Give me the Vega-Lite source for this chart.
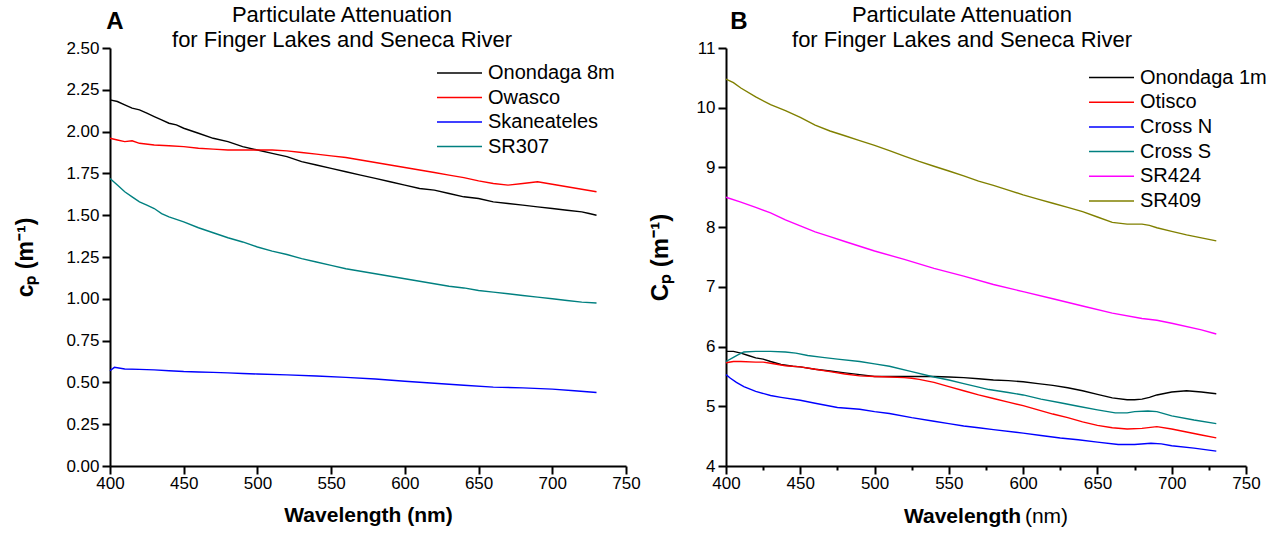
{
  "$schema": "https://vega.github.io/schema/vega-lite/v6.json",
  "background": "white",
  "padding": {"left": 14, "top": 4, "right": 5, "bottom": 5},
  "bounds": "flush",
  "spacing": 100,
  "config": {
    "font": "Liberation Sans",
    "view": {"stroke": null},
    "axis": {
      "grid": false,
      "domainColor": "black",
      "domainWidth": 2,
      "tickColor": "black",
      "tickWidth": 2,
      "labelColor": "black",
      "labelFont": "Liberation Sans",
      "labelFontSize": 17,
      "labelOverlap": false,
      "labelFlush": false,
      "titleColor": "black",
      "titleFont": "Liberation Sans",
      "titleFontWeight": "bold"
    },
    "title": {"font": "Liberation Sans", "fontSize": 22, "fontWeight": "normal", "color": "black", "lineHeight": 25, "anchor": "middle"},
    "legend": {"labelFont": "Liberation Sans", "labelFontSize": 20, "labelColor": "black"}
  },
  "datasets": {
    "A": [
      {"s":"Onondaga 8m","w":400,"c":2.19},{"s":"Onondaga 8m","w":405,"c":2.18},{"s":"Onondaga 8m","w":410,"c":2.16},{"s":"Onondaga 8m","w":415,"c":2.14},{"s":"Onondaga 8m","w":420,"c":2.13},{"s":"Onondaga 8m","w":425,"c":2.11},{"s":"Onondaga 8m","w":430,"c":2.09},{"s":"Onondaga 8m","w":435,"c":2.07},{"s":"Onondaga 8m","w":440,"c":2.05},{"s":"Onondaga 8m","w":445,"c":2.04},{"s":"Onondaga 8m","w":450,"c":2.02},{"s":"Onondaga 8m","w":460,"c":1.99},{"s":"Onondaga 8m","w":470,"c":1.96},{"s":"Onondaga 8m","w":480,"c":1.94},{"s":"Onondaga 8m","w":490,"c":1.91},{"s":"Onondaga 8m","w":500,"c":1.89},{"s":"Onondaga 8m","w":510,"c":1.87},{"s":"Onondaga 8m","w":520,"c":1.85},{"s":"Onondaga 8m","w":530,"c":1.82},{"s":"Onondaga 8m","w":540,"c":1.80},{"s":"Onondaga 8m","w":550,"c":1.78},{"s":"Onondaga 8m","w":560,"c":1.76},{"s":"Onondaga 8m","w":570,"c":1.74},{"s":"Onondaga 8m","w":580,"c":1.72},{"s":"Onondaga 8m","w":590,"c":1.70},{"s":"Onondaga 8m","w":600,"c":1.68},{"s":"Onondaga 8m","w":610,"c":1.66},{"s":"Onondaga 8m","w":620,"c":1.65},{"s":"Onondaga 8m","w":630,"c":1.63},{"s":"Onondaga 8m","w":640,"c":1.61},{"s":"Onondaga 8m","w":650,"c":1.60},{"s":"Onondaga 8m","w":660,"c":1.58},{"s":"Onondaga 8m","w":670,"c":1.57},{"s":"Onondaga 8m","w":680,"c":1.56},{"s":"Onondaga 8m","w":690,"c":1.55},{"s":"Onondaga 8m","w":700,"c":1.54},{"s":"Onondaga 8m","w":710,"c":1.53},{"s":"Onondaga 8m","w":720,"c":1.52},{"s":"Onondaga 8m","w":725,"c":1.51},{"s":"Onondaga 8m","w":730,"c":1.50},
      {"s":"Owasco","w":400,"c":1.96},{"s":"Owasco","w":405,"c":1.95},{"s":"Owasco","w":410,"c":1.94},{"s":"Owasco","w":415,"c":1.945},{"s":"Owasco","w":420,"c":1.93},{"s":"Owasco","w":430,"c":1.92},{"s":"Owasco","w":440,"c":1.915},{"s":"Owasco","w":450,"c":1.91},{"s":"Owasco","w":460,"c":1.90},{"s":"Owasco","w":470,"c":1.895},{"s":"Owasco","w":480,"c":1.89},{"s":"Owasco","w":490,"c":1.89},{"s":"Owasco","w":500,"c":1.89},{"s":"Owasco","w":510,"c":1.89},{"s":"Owasco","w":520,"c":1.885},{"s":"Owasco","w":530,"c":1.875},{"s":"Owasco","w":540,"c":1.865},{"s":"Owasco","w":550,"c":1.855},{"s":"Owasco","w":560,"c":1.845},{"s":"Owasco","w":570,"c":1.83},{"s":"Owasco","w":580,"c":1.815},{"s":"Owasco","w":590,"c":1.80},{"s":"Owasco","w":600,"c":1.785},{"s":"Owasco","w":610,"c":1.77},{"s":"Owasco","w":620,"c":1.755},{"s":"Owasco","w":630,"c":1.74},{"s":"Owasco","w":640,"c":1.725},{"s":"Owasco","w":650,"c":1.705},{"s":"Owasco","w":660,"c":1.69},{"s":"Owasco","w":670,"c":1.68},{"s":"Owasco","w":680,"c":1.69},{"s":"Owasco","w":690,"c":1.70},{"s":"Owasco","w":700,"c":1.685},{"s":"Owasco","w":710,"c":1.67},{"s":"Owasco","w":720,"c":1.655},{"s":"Owasco","w":730,"c":1.64},
      {"s":"Skaneateles","w":400,"c":0.57},{"s":"Skaneateles","w":403,"c":0.59},{"s":"Skaneateles","w":410,"c":0.58},{"s":"Skaneateles","w":420,"c":0.578},{"s":"Skaneateles","w":430,"c":0.575},{"s":"Skaneateles","w":440,"c":0.57},{"s":"Skaneateles","w":450,"c":0.565},{"s":"Skaneateles","w":460,"c":0.562},{"s":"Skaneateles","w":470,"c":0.56},{"s":"Skaneateles","w":480,"c":0.557},{"s":"Skaneateles","w":490,"c":0.553},{"s":"Skaneateles","w":500,"c":0.55},{"s":"Skaneateles","w":520,"c":0.545},{"s":"Skaneateles","w":540,"c":0.538},{"s":"Skaneateles","w":560,"c":0.53},{"s":"Skaneateles","w":580,"c":0.52},{"s":"Skaneateles","w":600,"c":0.507},{"s":"Skaneateles","w":620,"c":0.495},{"s":"Skaneateles","w":640,"c":0.483},{"s":"Skaneateles","w":660,"c":0.472},{"s":"Skaneateles","w":680,"c":0.467},{"s":"Skaneateles","w":700,"c":0.46},{"s":"Skaneateles","w":715,"c":0.45},{"s":"Skaneateles","w":730,"c":0.44},
      {"s":"SR307","w":400,"c":1.72},{"s":"SR307","w":405,"c":1.68},{"s":"SR307","w":410,"c":1.64},{"s":"SR307","w":415,"c":1.61},{"s":"SR307","w":420,"c":1.58},{"s":"SR307","w":425,"c":1.56},{"s":"SR307","w":430,"c":1.54},{"s":"SR307","w":435,"c":1.51},{"s":"SR307","w":440,"c":1.49},{"s":"SR307","w":445,"c":1.475},{"s":"SR307","w":450,"c":1.46},{"s":"SR307","w":460,"c":1.425},{"s":"SR307","w":470,"c":1.395},{"s":"SR307","w":480,"c":1.365},{"s":"SR307","w":490,"c":1.34},{"s":"SR307","w":500,"c":1.31},{"s":"SR307","w":510,"c":1.285},{"s":"SR307","w":520,"c":1.265},{"s":"SR307","w":530,"c":1.24},{"s":"SR307","w":540,"c":1.22},{"s":"SR307","w":550,"c":1.20},{"s":"SR307","w":560,"c":1.18},{"s":"SR307","w":570,"c":1.165},{"s":"SR307","w":580,"c":1.15},{"s":"SR307","w":590,"c":1.135},{"s":"SR307","w":600,"c":1.12},{"s":"SR307","w":610,"c":1.105},{"s":"SR307","w":620,"c":1.09},{"s":"SR307","w":630,"c":1.075},{"s":"SR307","w":640,"c":1.065},{"s":"SR307","w":650,"c":1.05},{"s":"SR307","w":660,"c":1.04},{"s":"SR307","w":670,"c":1.03},{"s":"SR307","w":680,"c":1.02},{"s":"SR307","w":690,"c":1.01},{"s":"SR307","w":700,"c":1.00},{"s":"SR307","w":710,"c":0.99},{"s":"SR307","w":720,"c":0.98},{"s":"SR307","w":730,"c":0.975}
    ],
    "B": [
      {"s":"Onondaga 1m","w":400,"c":5.92},{"s":"Onondaga 1m","w":405,"c":5.92},{"s":"Onondaga 1m","w":410,"c":5.89},{"s":"Onondaga 1m","w":415,"c":5.85},{"s":"Onondaga 1m","w":420,"c":5.81},{"s":"Onondaga 1m","w":425,"c":5.79},{"s":"Onondaga 1m","w":430,"c":5.75},{"s":"Onondaga 1m","w":437,"c":5.70},{"s":"Onondaga 1m","w":445,"c":5.67},{"s":"Onondaga 1m","w":450,"c":5.66},{"s":"Onondaga 1m","w":460,"c":5.62},{"s":"Onondaga 1m","w":470,"c":5.59},{"s":"Onondaga 1m","w":480,"c":5.56},{"s":"Onondaga 1m","w":490,"c":5.53},{"s":"Onondaga 1m","w":500,"c":5.50},{"s":"Onondaga 1m","w":510,"c":5.50},{"s":"Onondaga 1m","w":525,"c":5.50},{"s":"Onondaga 1m","w":540,"c":5.50},{"s":"Onondaga 1m","w":550,"c":5.49},{"s":"Onondaga 1m","w":560,"c":5.48},{"s":"Onondaga 1m","w":570,"c":5.46},{"s":"Onondaga 1m","w":580,"c":5.44},{"s":"Onondaga 1m","w":590,"c":5.43},{"s":"Onondaga 1m","w":600,"c":5.41},{"s":"Onondaga 1m","w":610,"c":5.38},{"s":"Onondaga 1m","w":620,"c":5.35},{"s":"Onondaga 1m","w":630,"c":5.31},{"s":"Onondaga 1m","w":640,"c":5.26},{"s":"Onondaga 1m","w":650,"c":5.20},{"s":"Onondaga 1m","w":660,"c":5.14},{"s":"Onondaga 1m","w":670,"c":5.11},{"s":"Onondaga 1m","w":675,"c":5.11},{"s":"Onondaga 1m","w":680,"c":5.12},{"s":"Onondaga 1m","w":685,"c":5.15},{"s":"Onondaga 1m","w":690,"c":5.19},{"s":"Onondaga 1m","w":700,"c":5.24},{"s":"Onondaga 1m","w":710,"c":5.26},{"s":"Onondaga 1m","w":720,"c":5.24},{"s":"Onondaga 1m","w":730,"c":5.21},
      {"s":"Otisco","w":400,"c":5.73},{"s":"Otisco","w":405,"c":5.75},{"s":"Otisco","w":410,"c":5.75},{"s":"Otisco","w":420,"c":5.74},{"s":"Otisco","w":425,"c":5.74},{"s":"Otisco","w":430,"c":5.72},{"s":"Otisco","w":440,"c":5.68},{"s":"Otisco","w":450,"c":5.66},{"s":"Otisco","w":460,"c":5.62},{"s":"Otisco","w":470,"c":5.58},{"s":"Otisco","w":480,"c":5.54},{"s":"Otisco","w":490,"c":5.51},{"s":"Otisco","w":500,"c":5.50},{"s":"Otisco","w":510,"c":5.49},{"s":"Otisco","w":520,"c":5.48},{"s":"Otisco","w":525,"c":5.47},{"s":"Otisco","w":530,"c":5.45},{"s":"Otisco","w":540,"c":5.40},{"s":"Otisco","w":550,"c":5.33},{"s":"Otisco","w":560,"c":5.26},{"s":"Otisco","w":570,"c":5.19},{"s":"Otisco","w":580,"c":5.13},{"s":"Otisco","w":590,"c":5.07},{"s":"Otisco","w":600,"c":5.01},{"s":"Otisco","w":610,"c":4.94},{"s":"Otisco","w":620,"c":4.87},{"s":"Otisco","w":630,"c":4.81},{"s":"Otisco","w":640,"c":4.74},{"s":"Otisco","w":650,"c":4.68},{"s":"Otisco","w":660,"c":4.64},{"s":"Otisco","w":670,"c":4.62},{"s":"Otisco","w":680,"c":4.63},{"s":"Otisco","w":690,"c":4.66},{"s":"Otisco","w":700,"c":4.62},{"s":"Otisco","w":710,"c":4.57},{"s":"Otisco","w":720,"c":4.52},{"s":"Otisco","w":730,"c":4.47},
      {"s":"Cross N","w":400,"c":5.53},{"s":"Cross N","w":403,"c":5.47},{"s":"Cross N","w":407,"c":5.40},{"s":"Cross N","w":412,"c":5.33},{"s":"Cross N","w":420,"c":5.25},{"s":"Cross N","w":430,"c":5.18},{"s":"Cross N","w":437,"c":5.15},{"s":"Cross N","w":450,"c":5.10},{"s":"Cross N","w":460,"c":5.05},{"s":"Cross N","w":475,"c":4.98},{"s":"Cross N","w":490,"c":4.95},{"s":"Cross N","w":500,"c":4.91},{"s":"Cross N","w":510,"c":4.88},{"s":"Cross N","w":525,"c":4.81},{"s":"Cross N","w":540,"c":4.75},{"s":"Cross N","w":550,"c":4.71},{"s":"Cross N","w":560,"c":4.67},{"s":"Cross N","w":570,"c":4.64},{"s":"Cross N","w":580,"c":4.61},{"s":"Cross N","w":600,"c":4.55},{"s":"Cross N","w":612,"c":4.51},{"s":"Cross N","w":625,"c":4.47},{"s":"Cross N","w":637,"c":4.44},{"s":"Cross N","w":650,"c":4.40},{"s":"Cross N","w":664,"c":4.36},{"s":"Cross N","w":675,"c":4.36},{"s":"Cross N","w":686,"c":4.38},{"s":"Cross N","w":693,"c":4.37},{"s":"Cross N","w":700,"c":4.34},{"s":"Cross N","w":715,"c":4.30},{"s":"Cross N","w":730,"c":4.25},
      {"s":"Cross S","w":400,"c":5.75},{"s":"Cross S","w":405,"c":5.82},{"s":"Cross S","w":408,"c":5.86},{"s":"Cross S","w":412,"c":5.91},{"s":"Cross S","w":420,"c":5.92},{"s":"Cross S","w":430,"c":5.92},{"s":"Cross S","w":440,"c":5.91},{"s":"Cross S","w":447,"c":5.89},{"s":"Cross S","w":455,"c":5.85},{"s":"Cross S","w":465,"c":5.82},{"s":"Cross S","w":475,"c":5.79},{"s":"Cross S","w":490,"c":5.75},{"s":"Cross S","w":500,"c":5.71},{"s":"Cross S","w":510,"c":5.67},{"s":"Cross S","w":525,"c":5.58},{"s":"Cross S","w":540,"c":5.49},{"s":"Cross S","w":550,"c":5.44},{"s":"Cross S","w":560,"c":5.38},{"s":"Cross S","w":570,"c":5.32},{"s":"Cross S","w":577,"c":5.28},{"s":"Cross S","w":590,"c":5.23},{"s":"Cross S","w":600,"c":5.19},{"s":"Cross S","w":612,"c":5.12},{"s":"Cross S","w":625,"c":5.06},{"s":"Cross S","w":637,"c":5.00},{"s":"Cross S","w":650,"c":4.94},{"s":"Cross S","w":662,"c":4.89},{"s":"Cross S","w":670,"c":4.89},{"s":"Cross S","w":675,"c":4.91},{"s":"Cross S","w":684,"c":4.92},{"s":"Cross S","w":690,"c":4.91},{"s":"Cross S","w":700,"c":4.84},{"s":"Cross S","w":715,"c":4.77},{"s":"Cross S","w":730,"c":4.71},
      {"s":"SR424","w":400,"c":8.50},{"s":"SR424","w":410,"c":8.42},{"s":"SR424","w":420,"c":8.33},{"s":"SR424","w":430,"c":8.24},{"s":"SR424","w":440,"c":8.12},{"s":"SR424","w":450,"c":8.02},{"s":"SR424","w":460,"c":7.92},{"s":"SR424","w":470,"c":7.84},{"s":"SR424","w":480,"c":7.76},{"s":"SR424","w":490,"c":7.68},{"s":"SR424","w":500,"c":7.60},{"s":"SR424","w":520,"c":7.46},{"s":"SR424","w":540,"c":7.31},{"s":"SR424","w":560,"c":7.18},{"s":"SR424","w":580,"c":7.04},{"s":"SR424","w":600,"c":6.92},{"s":"SR424","w":620,"c":6.80},{"s":"SR424","w":640,"c":6.68},{"s":"SR424","w":660,"c":6.56},{"s":"SR424","w":680,"c":6.47},{"s":"SR424","w":690,"c":6.44},{"s":"SR424","w":700,"c":6.39},{"s":"SR424","w":720,"c":6.28},{"s":"SR424","w":730,"c":6.21},
      {"s":"SR409","w":400,"c":10.48},{"s":"SR409","w":405,"c":10.42},{"s":"SR409","w":410,"c":10.33},{"s":"SR409","w":420,"c":10.18},{"s":"SR409","w":430,"c":10.05},{"s":"SR409","w":440,"c":9.95},{"s":"SR409","w":450,"c":9.84},{"s":"SR409","w":460,"c":9.71},{"s":"SR409","w":470,"c":9.61},{"s":"SR409","w":480,"c":9.53},{"s":"SR409","w":490,"c":9.45},{"s":"SR409","w":500,"c":9.37},{"s":"SR409","w":510,"c":9.28},{"s":"SR409","w":520,"c":9.19},{"s":"SR409","w":530,"c":9.10},{"s":"SR409","w":540,"c":9.02},{"s":"SR409","w":550,"c":8.94},{"s":"SR409","w":560,"c":8.86},{"s":"SR409","w":570,"c":8.77},{"s":"SR409","w":580,"c":8.70},{"s":"SR409","w":590,"c":8.62},{"s":"SR409","w":600,"c":8.54},{"s":"SR409","w":610,"c":8.47},{"s":"SR409","w":620,"c":8.40},{"s":"SR409","w":630,"c":8.33},{"s":"SR409","w":640,"c":8.26},{"s":"SR409","w":650,"c":8.17},{"s":"SR409","w":660,"c":8.08},{"s":"SR409","w":670,"c":8.05},{"s":"SR409","w":680,"c":8.05},{"s":"SR409","w":685,"c":8.03},{"s":"SR409","w":690,"c":7.99},{"s":"SR409","w":700,"c":7.93},{"s":"SR409","w":710,"c":7.87},{"s":"SR409","w":720,"c":7.82},{"s":"SR409","w":730,"c":7.77}
    ],
    "labA": [{"t": "A"}],
    "labB": [{"t": "B"}]
  },
  "hconcat": [
    {
      "width": 516,
      "height": 418,
      "title": {"text": ["Particulate Attenuation", "for Finger Lakes and Seneca River"], "dx": -26, "offset": -42},
      "layer": [
        {
          "data": {"name": "A"},
          "mark": {"type": "line", "strokeWidth": 1.4},
          "encoding": {
            "x": {"field": "w", "type": "quantitative", "scale": {"domain": [400, 750], "nice": false, "zero": false},
              "axis": {"title": "Wavelength (nm)", "titleFontSize": 21, "titlePadding": 13,
                "values": [400,425,450,475,500,525,550,575,600,625,650,675,700,725,750],
                "labelExpr": "datum.value % 50 == 0 ? datum.label : ''",
                "tickSize": {"condition": {"test": "datum.value % 50 != 0", "value": 4}, "value": 8},
                "labelPadding": 1}},
            "y": {"field": "c", "type": "quantitative", "scale": {"domain": [0, 2.5], "nice": false},
              "axis": {"title": "cₚ (m⁻¹)", "titleFontSize": 23, "titlePadding": 28,
                "values": [0,0.125,0.25,0.375,0.5,0.625,0.75,0.875,1,1.125,1.25,1.375,1.5,1.625,1.75,1.875,2,2.125,2.25,2.375,2.5],
                "format": ".2f",
                "labelExpr": "round(datum.value*8) % 2 == 1 ? '' : datum.label",
                "tickSize": {"condition": {"test": "round(datum.value*8) % 2 == 1", "value": 4}, "value": 8},
                "labelPadding": 3}},
            "color": {"field": "s", "type": "nominal",
              "scale": {"domain": ["Onondaga 8m", "Owasco", "Skaneateles", "SR307"], "range": ["#000000", "#ff0000", "#0000ff", "#008080"]},
              "legend": {"title": null, "orient": "none", "legendX": 326, "legendY": 15, "symbolType": "stroke", "symbolSize": 2025, "symbolStrokeWidth": 1.5, "clipHeight": 20, "rowPadding": 4.5, "labelOffset": 5}}
          }
        },
        {
          "data": {"name": "labA"},
          "mark": {"type": "text", "fontSize": 24, "fontWeight": "bold", "align": "center", "baseline": "alphabetic", "dx": 5, "dy": -19, "color": "black"},
          "encoding": {"x": {"datum": 400}, "y": {"datum": 2.5}, "text": {"field": "t"}}
        }
      ]
    },
    {
      "width": 520,
      "height": 418,
      "title": {"text": ["Particulate Attenuation", "for Finger Lakes and Seneca River"], "dx": -24, "offset": -42},
      "resolve": {"axis": {"x": "independent"}},
      "layer": [
        {
          "data": {"name": "B"},
          "mark": {"type": "line", "strokeWidth": 1.4},
          "encoding": {
            "x": {"field": "w", "type": "quantitative", "scale": {"domain": [400, 750], "nice": false, "zero": false},
              "axis": {"title": "Wavelength", "titleFontSize": 21, "titleX": 236, "titleY": 39, "titleAlign": "center", "titleBaseline": "top",
                "values": [400,425,450,475,500,525,550,575,600,625,650,675,700,725,750],
                "labelExpr": "datum.value % 50 == 0 ? datum.label : ''",
                "tickSize": {"condition": {"test": "datum.value % 50 != 0", "value": 4}, "value": 8},
                "labelPadding": 1}},
            "y": {"field": "c", "type": "quantitative", "scale": {"domain": [4, 11], "nice": false, "zero": false},
              "axis": {"title": "Cₚ (m⁻¹)", "titleFontSize": 24, "titlePadding": 24,
                "values": [4,4.5,5,5.5,6,6.5,7,7.5,8,8.5,9,9.5,10,10.5,11],
                "format": "d",
                "labelExpr": "datum.value % 1 != 0 ? '' : datum.label",
                "tickSize": {"condition": {"test": "datum.value % 1 != 0", "value": 4}, "value": 8},
                "labelPadding": 3}},
            "color": {"field": "s", "type": "nominal",
              "scale": {"domain": ["Onondaga 1m", "Otisco", "Cross N", "Cross S", "SR424", "SR409"], "range": ["#000000", "#ff0000", "#0000ff", "#008080", "#ff00ff", "#808000"]},
              "legend": {"title": null, "orient": "none", "legendX": 362, "legendY": 19.5, "symbolType": "stroke", "symbolSize": 2025, "symbolStrokeWidth": 1.5, "clipHeight": 20, "rowPadding": 4.7, "labelOffset": 5}}
          }
        },
        {
          "data": {"name": "labB"},
          "mark": {"type": "text", "fontSize": 24, "fontWeight": "bold", "align": "center", "baseline": "alphabetic", "dx": 13, "dy": -19, "color": "black"},
          "encoding": {
            "x": {"datum": 400, "axis": {"orient": "bottom", "title": "(nm)", "titleFontSize": 21, "titleFontWeight": "normal", "titleX": 320, "titleY": 39, "titleAlign": "center", "titleBaseline": "top", "domain": false, "ticks": false, "labels": false}},
            "y": {"datum": 11},
            "text": {"field": "t"}
          }
        }
      ]
    }
  ],
  "resolve": {"scale": {"color": "independent", "x": "independent", "y": "independent"}}
}
